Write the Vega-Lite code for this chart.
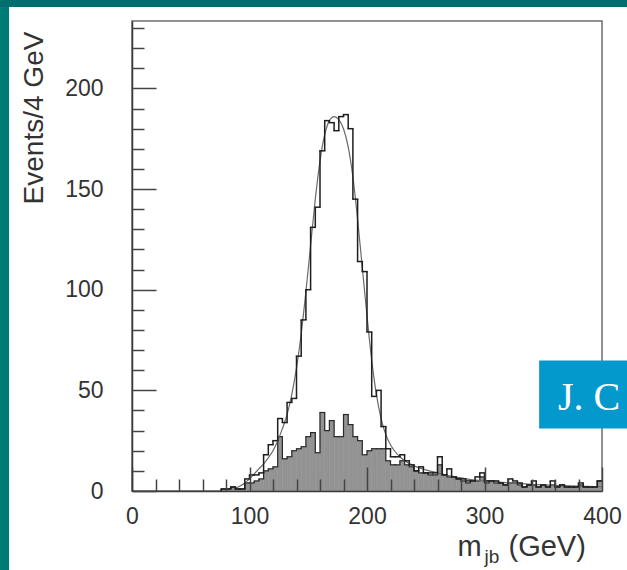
{
  "$schema": "https://vega.github.io/schema/vega-lite/v6.json",
  "padding": 0,
  "background": "white",
  "config": {"view": {"stroke": null}},
  "datasets": {
    "hist": [
      {"lo":0,"hi":4,"total":0,"bkg":0},{"lo":4,"hi":8,"total":0,"bkg":0},{"lo":8,"hi":12,"total":0,"bkg":0},{"lo":12,"hi":16,"total":0,"bkg":0},
      {"lo":16,"hi":20,"total":0,"bkg":0},{"lo":20,"hi":24,"total":0,"bkg":0},{"lo":24,"hi":28,"total":0,"bkg":0},{"lo":28,"hi":32,"total":0,"bkg":0},
      {"lo":32,"hi":36,"total":0,"bkg":0},{"lo":36,"hi":40,"total":0,"bkg":0},{"lo":40,"hi":44,"total":0,"bkg":0},{"lo":44,"hi":48,"total":0,"bkg":0},
      {"lo":48,"hi":52,"total":0,"bkg":0},{"lo":52,"hi":56,"total":0,"bkg":0},{"lo":56,"hi":60,"total":0,"bkg":0},{"lo":60,"hi":64,"total":0,"bkg":0},
      {"lo":64,"hi":68,"total":0,"bkg":0},{"lo":68,"hi":72,"total":0,"bkg":0},{"lo":72,"hi":76,"total":0,"bkg":0},{"lo":76,"hi":80,"total":1,"bkg":1},
      {"lo":80,"hi":84,"total":1,"bkg":1},{"lo":84,"hi":88,"total":2,"bkg":2},{"lo":88,"hi":92,"total":1,"bkg":1},{"lo":92,"hi":96,"total":1,"bkg":1},
      {"lo":96,"hi":100,"total":6,"bkg":4},{"lo":100,"hi":104,"total":8,"bkg":4},{"lo":104,"hi":108,"total":8,"bkg":5},{"lo":108,"hi":112,"total":9,"bkg":6},
      {"lo":112,"hi":116,"total":18,"bkg":10},{"lo":116,"hi":120,"total":23,"bkg":11},{"lo":120,"hi":124,"total":25,"bkg":12},{"lo":124,"hi":128,"total":36,"bkg":27},
      {"lo":128,"hi":132,"total":34,"bkg":16},{"lo":132,"hi":136,"total":44,"bkg":17},{"lo":136,"hi":140,"total":46,"bkg":20},{"lo":140,"hi":144,"total":67,"bkg":21},
      {"lo":144,"hi":148,"total":85,"bkg":22},{"lo":148,"hi":152,"total":100,"bkg":27},{"lo":152,"hi":156,"total":131,"bkg":29},{"lo":156,"hi":160,"total":141,"bkg":19},
      {"lo":160,"hi":164,"total":169,"bkg":39},{"lo":164,"hi":168,"total":184,"bkg":30},{"lo":168,"hi":172,"total":183,"bkg":35},{"lo":172,"hi":176,"total":179,"bkg":27},
      {"lo":176,"hi":180,"total":186,"bkg":27},{"lo":180,"hi":184,"total":187,"bkg":38},{"lo":184,"hi":188,"total":180,"bkg":33},{"lo":188,"hi":192,"total":145,"bkg":27},
      {"lo":192,"hi":196,"total":114,"bkg":25},{"lo":196,"hi":200,"total":109,"bkg":18},{"lo":200,"hi":204,"total":79,"bkg":20},{"lo":204,"hi":208,"total":47,"bkg":21},
      {"lo":208,"hi":212,"total":50,"bkg":21},{"lo":212,"hi":216,"total":32,"bkg":21},{"lo":216,"hi":220,"total":21,"bkg":15},{"lo":220,"hi":224,"total":17,"bkg":13},
      {"lo":224,"hi":228,"total":17,"bkg":13},{"lo":228,"hi":232,"total":18,"bkg":15},{"lo":232,"hi":236,"total":15,"bkg":13},{"lo":236,"hi":240,"total":13,"bkg":12},
      {"lo":240,"hi":244,"total":10,"bkg":10},{"lo":244,"hi":248,"total":12,"bkg":9},{"lo":248,"hi":252,"total":9,"bkg":9},{"lo":252,"hi":256,"total":9,"bkg":8},
      {"lo":256,"hi":260,"total":9,"bkg":8},{"lo":260,"hi":264,"total":17,"bkg":13},{"lo":264,"hi":268,"total":8,"bkg":8},{"lo":268,"hi":272,"total":11,"bkg":7},
      {"lo":272,"hi":276,"total":7,"bkg":7},{"lo":276,"hi":280,"total":6,"bkg":6},{"lo":280,"hi":284,"total":6,"bkg":5},{"lo":284,"hi":288,"total":5,"bkg":4},
      {"lo":288,"hi":292,"total":5,"bkg":5},{"lo":292,"hi":296,"total":7,"bkg":5},{"lo":296,"hi":300,"total":9,"bkg":7},{"lo":300,"hi":304,"total":5,"bkg":4},
      {"lo":304,"hi":308,"total":5,"bkg":5},{"lo":308,"hi":312,"total":5,"bkg":4},{"lo":312,"hi":316,"total":4,"bkg":4},{"lo":316,"hi":320,"total":3,"bkg":3},
      {"lo":320,"hi":324,"total":6,"bkg":4},{"lo":324,"hi":328,"total":5,"bkg":4},{"lo":328,"hi":332,"total":4,"bkg":3},{"lo":332,"hi":336,"total":2,"bkg":2},
      {"lo":336,"hi":340,"total":3,"bkg":3},{"lo":340,"hi":344,"total":5,"bkg":3},{"lo":344,"hi":348,"total":2,"bkg":2},{"lo":348,"hi":352,"total":3,"bkg":3},
      {"lo":352,"hi":356,"total":2,"bkg":2},{"lo":356,"hi":360,"total":5,"bkg":3},{"lo":360,"hi":364,"total":2,"bkg":2},{"lo":364,"hi":368,"total":3,"bkg":3},
      {"lo":368,"hi":372,"total":2,"bkg":2},{"lo":372,"hi":376,"total":2,"bkg":2},{"lo":376,"hi":380,"total":2,"bkg":2},{"lo":380,"hi":384,"total":4,"bkg":3},
      {"lo":384,"hi":388,"total":2,"bkg":2},{"lo":388,"hi":392,"total":2,"bkg":2},{"lo":392,"hi":396,"total":2,"bkg":2},{"lo":396,"hi":400,"total":5,"bkg":5}
    ],
    "fit": [
      {"m":88,"v":1.5},{"m":92,"v":2.5},{"m":96,"v":4},{"m":100,"v":6},{"m":104,"v":8.5},{"m":108,"v":11},{"m":112,"v":13.5},{"m":116,"v":16.5},
      {"m":120,"v":20},{"m":124,"v":25},{"m":128,"v":31},{"m":132,"v":38},{"m":136,"v":48},{"m":140,"v":61},{"m":144,"v":78},{"m":148,"v":99},
      {"m":152,"v":122},{"m":156,"v":145},{"m":160,"v":164},{"m":164,"v":177},{"m":168,"v":184},{"m":172,"v":186},{"m":176,"v":184.5},{"m":180,"v":180},
      {"m":184,"v":171},{"m":188,"v":156},{"m":192,"v":135},{"m":196,"v":111},{"m":200,"v":87},{"m":204,"v":65},{"m":208,"v":48},{"m":212,"v":36},
      {"m":216,"v":28},{"m":220,"v":23},{"m":224,"v":19.5},{"m":228,"v":17},{"m":232,"v":15},{"m":240,"v":12.5},{"m":250,"v":10.5},{"m":260,"v":9},
      {"m":270,"v":7.5},{"m":280,"v":6.5},{"m":290,"v":5.5},{"m":300,"v":5},{"m":320,"v":4},{"m":340,"v":3.3},{"m":360,"v":2.8},{"m":380,"v":2.4},{"m":400,"v":2.1}
    ]
  },
  "vconcat": [
    {"width": 627, "height": 7, "view": {"fill": "#006e6e", "stroke": null}, "data": {"values": []}, "mark": "point"},
    {
      "hconcat": [
        {"width": 9, "height": 563, "view": {"fill": "#007a76", "stroke": null}, "data": {"values": []}, "mark": "point"},
        {
          "vconcat": [
            {"width": 470, "height": 1, "view": {"stroke": null}, "data": {"values": []}, "mark": "point"},
            {
              "width": 470,
              "height": 470,
              "view": {"stroke": "#6e6e6e", "strokeWidth": 1.5, "fill": "white"},
              "resolve": {"axis": {"x": "independent", "y": "independent"}},
              "layer": [
                {
                  "data": {"name": "hist"},
                  "mark": {"type": "rect", "color": "#939393", "stroke": "#939393", "strokeWidth": 0.6},
                  "encoding": {
                    "x": {"field": "lo", "type": "quantitative", "scale": {"domain": [0, 400], "nice": false, "zero": false},
                      "axis": {"orient": "bottom", "values": [0, 100, 200, 300, 400], "ticks": false, "tickSize": 0, "domain": true, "domainColor": "#3a3a3a", "domainWidth": 1.5, "grid": false,
                        "labelFont": "Liberation Sans", "labelFontSize": 23, "labelColor": "#333333", "labelPadding": 14, "labelFlush": false, "labelOverlap": false,
                        "title": "m", "titleFont": "Liberation Sans", "titleFontSize": 29, "titleFontWeight": "normal", "titleColor": "#333333",
                        "titleX": 325, "titleY": 64, "titleAlign": "left", "titleBaseline": "alphabetic", "zindex": 1}},
                    "x2": {"field": "hi"},
                    "y": {"field": "bkg", "type": "quantitative", "scale": {"domain": [0, 233.5], "nice": false},
                      "axis": {"orient": "left", "values": [0, 50, 100, 150, 200], "ticks": false, "tickSize": 0, "domain": true, "domainColor": "#3a3a3a", "domainWidth": 1.5, "grid": false,
                        "labelFont": "Liberation Sans", "labelFontSize": 23, "labelColor": "#333333", "labelPadding": 29, "labelFlush": false, "labelOverlap": false,
                        "title": "Events/4 GeV", "titleFont": "Liberation Sans", "titleFontSize": 28, "titleFontWeight": "normal", "titleColor": "#333333",
                        "titleAngle": 270, "titleX": -90, "titleY": 96.5, "titleAlign": "center", "titleBaseline": "alphabetic", "zindex": 1}},
                    "y2": {"datum": 0}
                  }
                },
                {
                  "data": {"name": "hist"},
                  "transform": [{"filter": "datum.bkg > 0"}],
                  "mark": {"type": "rule", "color": "#2a2a2a", "strokeWidth": 1.2, "strokeCap": "square"},
                  "encoding": {
                    "x": {"field": "lo", "type": "quantitative",
                      "axis": {"orient": "bottom", "values": [0, 100, 200, 300, 400], "ticks": true, "tickSize": -24, "tickColor": "#444444", "tickWidth": 1.5, "labels": false, "domain": false, "grid": false,
                        "title": "jb", "titleFont": "Liberation Sans", "titleFontSize": 19, "titleFontWeight": "normal", "titleColor": "#333333",
                        "titleX": 352, "titleY": 71, "titleAlign": "left", "titleBaseline": "alphabetic", "zindex": 1}},
                    "x2": {"field": "hi"},
                    "y": {"field": "bkg", "type": "quantitative",
                      "axis": {"orient": "left", "values": [0, 50, 100, 150, 200], "ticks": true, "tickSize": -24, "tickColor": "#444444", "tickWidth": 1.5, "labels": false, "domain": false, "grid": false, "title": null, "zindex": 1}}
                  }
                },
                {
                  "data": {"name": "hist"},
                  "transform": [
                    {"window": [{"op": "lag", "field": "bkg", "as": "bkg_prev"}], "sort": [{"field": "lo", "order": "ascending"}]},
                    {"filter": "datum.bkg_prev != null"}
                  ],
                  "mark": {"type": "rule", "color": "#2a2a2a", "strokeWidth": 1.2},
                  "encoding": {
                    "x": {"field": "lo", "type": "quantitative",
                      "axis": {"orient": "bottom", "values": [20, 40, 60, 80, 120, 140, 160, 180, 220, 240, 260, 280, 320, 340, 360, 380], "ticks": true, "tickSize": -12, "tickColor": "#444444", "tickWidth": 1.5, "labels": false, "domain": false, "grid": false,
                        "title": "(GeV)", "titleFont": "Liberation Sans", "titleFontSize": 29, "titleFontWeight": "normal", "titleColor": "#333333",
                        "titleX": 376, "titleY": 64, "titleAlign": "left", "titleBaseline": "alphabetic", "zindex": 1}},
                    "y": {"field": "bkg_prev", "type": "quantitative",
                      "axis": {"orient": "left", "values": [10, 20, 30, 40, 60, 70, 80, 90, 110, 120, 130, 140, 160, 170, 180, 190, 210, 220, 230], "ticks": true, "tickSize": -12, "tickColor": "#444444", "tickWidth": 1.5, "labels": false, "domain": false, "grid": false, "title": null, "zindex": 1}},
                    "y2": {"field": "bkg"}
                  }
                },
                {
                  "data": {"name": "fit"},
                  "mark": {"type": "line", "color": "#6a6a6a", "strokeWidth": 1.2, "interpolate": "monotone"},
                  "encoding": {
                    "x": {"field": "m", "type": "quantitative", "axis": null},
                    "y": {"field": "v", "type": "quantitative", "axis": null}
                  }
                },
                {
                  "data": {"name": "hist"},
                  "transform": [{"filter": "datum.total > 0"}],
                  "mark": {"type": "rule", "color": "#1e1e1e", "strokeWidth": 1.5, "strokeCap": "square"},
                  "encoding": {
                    "x": {"field": "lo", "type": "quantitative", "axis": null},
                    "x2": {"field": "hi"},
                    "y": {"field": "total", "type": "quantitative", "axis": null}
                  }
                },
                {
                  "data": {"name": "hist"},
                  "transform": [
                    {"window": [{"op": "lag", "field": "total", "as": "total_prev"}], "sort": [{"field": "lo", "order": "ascending"}]},
                    {"filter": "datum.total_prev != null"}
                  ],
                  "mark": {"type": "rule", "color": "#1e1e1e", "strokeWidth": 1.5},
                  "encoding": {
                    "x": {"field": "lo", "type": "quantitative", "axis": null},
                    "y": {"field": "total_prev", "type": "quantitative", "axis": null},
                    "y2": {"field": "total"}
                  }
                },
                {
                  "data": {"values": [{"label": "J. C"}]},
                  "mark": {"type": "rect", "color": "#0399cc"},
                  "encoding": {
                    "x": {"datum": 346.5, "type": "quantitative", "axis": null},
                    "x2": {"datum": 425.5},
                    "y": {"datum": 31, "type": "quantitative", "axis": null},
                    "y2": {"datum": 64.8}
                  }
                },
                {
                  "data": {"values": [{"label": "J. C"}]},
                  "mark": {"type": "text", "color": "white", "font": "Liberation Serif", "fontSize": 40, "align": "left", "baseline": "alphabetic"},
                  "encoding": {
                    "x": {"datum": 362.5, "type": "quantitative", "axis": null},
                    "y": {"datum": 40, "type": "quantitative", "axis": null},
                    "text": {"field": "label"}
                  }
                }
              ]
            }
          ],
          "spacing": 13,
          "bounds": "flush"
        }
      ],
      "spacing": 123,
      "bounds": "flush"
    }
  ],
  "spacing": 0,
  "bounds": "flush"
}
